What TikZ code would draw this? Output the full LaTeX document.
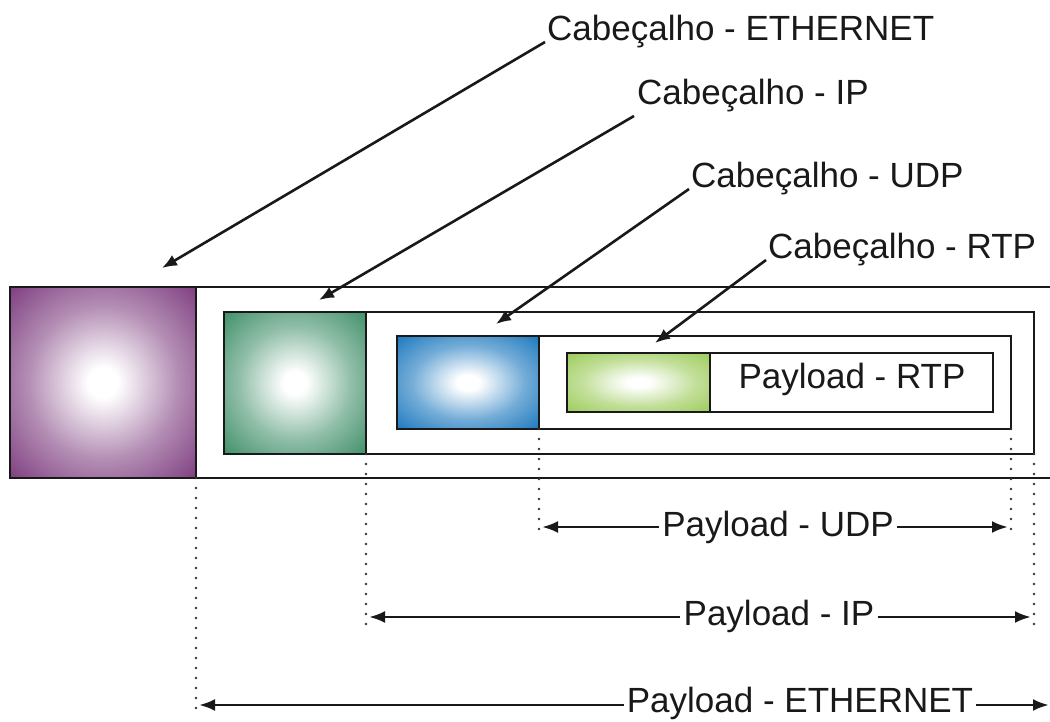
\documentclass[tikz,border=0pt]{standalone}
\usepackage{fontspec}
\setmainfont{Liberation Sans}
\usetikzlibrary{arrows.meta}

% header colours
\definecolor{ethcol}{RGB}{118,50,120}
\definecolor{ipcol}{RGB}{52,136,96}
\definecolor{udpcol}{RGB}{14,112,186}
\definecolor{rtpcol}{RGB}{150,200,80}

% white-centred glows, full colour reached towards the box edges
\pgfdeclareradialshading{ethglow}{\pgfpoint{0bp}{0bp}}{color(0bp)=(white); color(4bp)=(white); color(20bp)=(ethcol!55!white); color(38bp)=(ethcol); color(50bp)=(ethcol)}
\pgfdeclareradialshading{ipglow}{\pgfpoint{0bp}{0bp}}{color(0bp)=(white); color(4bp)=(white); color(20bp)=(ipcol!55!white); color(38bp)=(ipcol); color(50bp)=(ipcol)}
\pgfdeclareradialshading{udpglow}{\pgfpoint{0bp}{0bp}}{color(0bp)=(white); color(4bp)=(white); color(20bp)=(udpcol!58!white); color(38bp)=(udpcol); color(50bp)=(udpcol)}
\pgfdeclareradialshading{rtpglow}{\pgfpoint{0bp}{0bp}}{color(0bp)=(white); color(4bp)=(white); color(20bp)=(rtpcol!58!white); color(38bp)=(rtpcol); color(50bp)=(rtpcol)}

\tikzset{
  box/.style={draw=black!90, line width=2.6pt, inner sep=0pt, outer sep=0pt, anchor=north west},
  frameline/.style={draw=black!90, line width=2.6pt},
  lbl/.style={inner sep=0pt, font=\fontsize{35}{42}\selectfont, text=black!90},
  leader/.style={draw=black!90, line width=2.6pt, -{Latex[length=15pt,width=12pt]}},
  span/.style={draw=black!90, line width=2.8pt, -{Latex[length=16pt,width=12pt]}},
  dots/.style={draw=black!80, line width=2.8pt, line cap=round, dash pattern=on 0pt off 10pt},
}

\begin{document}
\begin{tikzpicture}[x=1pt, y=-1pt]
  \useasboundingbox (0,0) rectangle (1050,721);

  % nested frames
  \node[box, minimum width=810pt, minimum height=142pt] (ipfr) at (224,312) {};
  \node[box, minimum width=614pt, minimum height=93pt] (udpfr) at (397,336) {};
  \node[box, minimum width=426pt, minimum height=59pt] (rtpfr) at (567,353) {};

  % headers
  \node[box, shading=ethglow, minimum width=186pt, minimum height=191pt] (eth) at (10,287) {};
  \node[box, shading=ipglow, minimum width=142pt, minimum height=142pt] (ip) at (224,312) {};
  \node[box, shading=udpglow, minimum width=142pt, minimum height=93pt] (udp) at (397,336) {};
  \node[box, shading=rtpglow, minimum width=143pt, minimum height=59pt] (rtp) at (567,353) {};

  % Ethernet frame, open to the right
  \coordinate (ethTR) at (1052,287);
  \coordinate (ethBR) at (1052,478);
  \draw[frameline] (ethTR) -- (eth.north west) -- (eth.south west) -- (ethBR);

  \node[lbl, anchor=base] (prtp) at (852,388) {Payload - RTP};

  % header captions and their leaders
  \node[lbl, anchor=base west] (hEth) at (547,40) {Cabeçalho - ETHERNET};
  \node[lbl, anchor=base west] (hIp) at (637,104) {Cabeçalho - IP};
  \node[lbl, anchor=base west] (hUdp) at (691,187) {Cabeçalho - UDP};
  \node[lbl, anchor=base west] (hRtp) at (768,258) {Cabeçalho - RTP};

  \coordinate (tEth) at (162,268);
  \coordinate (tIp) at (319,300);
  \coordinate (tUdp) at (496,324);
  \coordinate (tRtp) at (655,343);

  \draw[leader] ([shift={(-2,2)}]hEth.base west) -- (tEth);
  \draw[leader] ([shift={(-3,12)}]hIp.base west) -- (tIp);
  \draw[leader] ([shift={(-2,2)}]hUdp.base west) -- (tUdp);
  \draw[leader] ([shift={(-2,2)}]hRtp.base west) -- (tRtp);

  % dotted extension lines
  \coordinate (dEth) at (196,711);
  \coordinate (dIpL) at (366,628);
  \coordinate (dIpR) at (1034,628);
  \coordinate (dUdpL) at (539,533);
  \coordinate (dUdpR) at (1011,533);
  \draw[dots] (eth.south east) -- (dEth);
  \draw[dots] (ip.south east) -- (dIpL);
  \draw[dots] (ipfr.south east) -- (dIpR);
  \draw[dots] (udp.south east) -- (dUdpL);
  \draw[dots] (udpfr.south east) -- (dUdpR);

  % payload spans
  \node[lbl, anchor=base, inner xsep=3pt] (pUdp) at (778,536) {Payload - UDP};
  \node[lbl, anchor=base, inner xsep=3pt] (pIp) at (779,625) {Payload - IP};
  \node[lbl, anchor=base, inner xsep=3pt] (pEth) at (800,712) {Payload - ETHERNET};

  \coordinate (aUdpL) at (542,527);
  \coordinate (aUdpR) at (1008,527);
  \coordinate (aIpL) at (369,617);
  \coordinate (aIpR) at (1031,617);
  \coordinate (aEthL) at (199,705);
  \coordinate (aEthR) at (1049,705);

  \draw[span] (pUdp.west |- aUdpL) -- (aUdpL);
  \draw[span] (pUdp.east |- aUdpR) -- (aUdpR);
  \draw[span] (pIp.west |- aIpL) -- (aIpL);
  \draw[span] (pIp.east |- aIpR) -- (aIpR);
  \draw[span] (pEth.west |- aEthL) -- (aEthL);
  \draw[span] (pEth.east |- aEthR) -- (aEthR);
\end{tikzpicture}
\end{document}
